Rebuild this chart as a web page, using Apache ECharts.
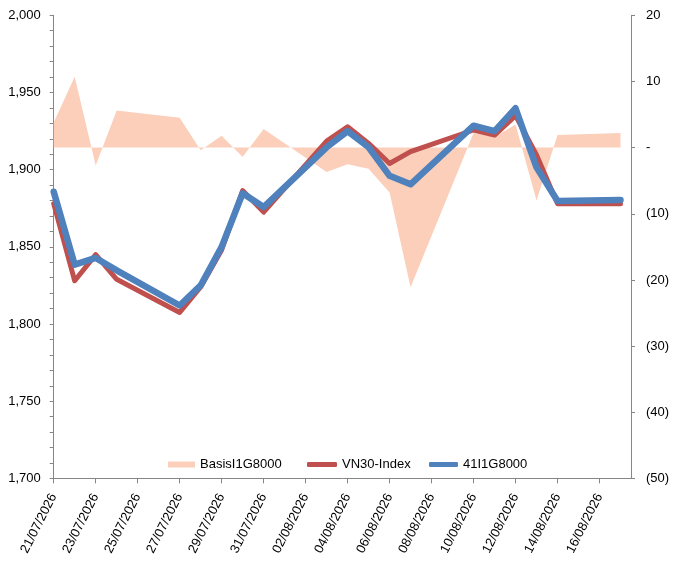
<!DOCTYPE html>
<html>
<head>
<meta charset="utf-8">
<script src="https://cdn.jsdelivr.net/npm/echarts@6.0.0/dist/echarts.min.js"></script>
<style>
  html, body { margin: 0; padding: 0; background: #fff; }
  #chart { width: 676px; height: 562px; }
</style>
</head>
<body>
<div id="chart"></div>
<script>
// trading days (weekends skipped, axis is calendar days)
var dates = ['21/07/2026', '22/07/2026', '23/07/2026', '24/07/2026', '27/07/2026',
  '28/07/2026', '29/07/2026', '30/07/2026', '31/07/2026', '03/08/2026', '04/08/2026',
  '05/08/2026', '06/08/2026', '07/08/2026', '10/08/2026', '11/08/2026', '12/08/2026',
  '13/08/2026', '14/08/2026', '17/08/2026'];
var basis = [3.8, 10.7, -2.7, 5.6, 4.5, -0.4, 1.8, -1.4, 2.8, -3.7, -2.5, -3.2, -6.8,
  -21.1, 2.2, 1.6, 3.5, -8.0, 1.9, 2.2];
var vn30 = [1878, 1828, 1845, 1829, 1807.5, 1824, 1848, 1886.5, 1872.5, 1918.5, 1927.8,
  1917, 1904, 1911.7, 1925.7, 1922.4, 1935, 1909.5, 1878, 1878];
var fut = [1885.7, 1838.5, 1842.8, 1834.8, 1812, 1825, 1850, 1884.7, 1875.8, 1914.5, 1925,
  1914.5, 1896, 1890.5, 1928.5, 1925, 1939.8, 1901.5, 1879.7, 1880.3];
var xTickLabels = ['21/07/2026', '23/07/2026', '25/07/2026', '27/07/2026', '29/07/2026',
  '31/07/2026', '02/08/2026', '04/08/2026', '06/08/2026', '08/08/2026', '10/08/2026',
  '12/08/2026', '14/08/2026', '16/08/2026'];

// day number counted from the first date
function dayIndex(s) {
  var p = s.split('/');
  var t = Date.UTC(+p[2], +p[1] - 1, +p[0]);
  var p0 = dates[0].split('/');
  var t0 = Date.UTC(+p0[2], +p0[1] - 1, +p0[0]);
  return Math.round((t - t0) / 86400000);
}
function pairs(arr) {
  return arr.map(function (v, i) { return [dayIndex(dates[i]), v]; });
}
var tickPos = xTickLabels.map(dayIndex);

var FONT = 'Liberation Sans, Arial, sans-serif';
var AXIS_GREY = '#868686';

var chart = echarts.init(document.getElementById('chart'));
var option = {
  animation: false,
  grid: { left: 53.7, right: 45, top: 15.3, bottom: 83.6 },
  legend: [{
    data: [{ name: 'BasisI1G8000', icon: 'rect' }],
    left: 163, top: 453, itemWidth: 27, itemHeight: 6,
    itemStyle: { borderWidth: 0 },
    textStyle: { fontFamily: FONT, fontSize: 13, color: '#000' }
  }, {
    data: [{ name: 'VN30-Index', icon: 'roundRect' }],
    left: 302, top: 453, itemWidth: 30, itemHeight: 5,
    itemStyle: { borderWidth: 0 },
    textStyle: { fontFamily: FONT, fontSize: 13, color: '#000' }
  }, {
    data: [{ name: '41I1G8000', icon: 'roundRect' }],
    left: 424, top: 453, itemWidth: 29, itemHeight: 5,
    itemStyle: { borderWidth: 0 },
    textStyle: { fontFamily: FONT, fontSize: 13, color: '#000' }
  }],
  xAxis: {
    type: 'value',
    min: 0,
    max: 27.5,
    splitLine: { show: false },
    axisLine: { onZero: false, lineStyle: { color: AXIS_GREY } },
    axisTick: { length: 5, lineStyle: { color: AXIS_GREY }, customValues: tickPos },
    axisLabel: {
      customValues: tickPos,
      rotate: 63,
      margin: 16,
      color: '#000',
      fontFamily: FONT,
      fontSize: 13,
      formatter: function (v) {
        var i = tickPos.indexOf(v);
        return i >= 0 ? xTickLabels[i] : '';
      }
    }
  },
  yAxis: [{
    type: 'value',
    position: 'left',
    min: 1700,
    max: 2000,
    interval: 50,
    splitLine: { show: false },
    axisLine: { show: true, onZero: false, lineStyle: { color: AXIS_GREY } },
    axisTick: { show: true, length: 4, lineStyle: { color: AXIS_GREY } },
    minorTick: { show: true, splitNumber: 5, length: 4, lineStyle: { color: AXIS_GREY } },
    axisLabel: {
      margin: 13,
      color: '#000',
      fontFamily: FONT,
      fontSize: 13,
      formatter: function (v) { return v.toLocaleString('en-US'); }
    }
  }, {
    type: 'value',
    position: 'right',
    min: -50,
    max: 20,
    interval: 10,
    splitLine: { show: false },
    axisLine: { show: true, onZero: false, lineStyle: { color: AXIS_GREY } },
    axisTick: { show: true, length: 4, lineStyle: { color: AXIS_GREY } },
    axisLabel: {
      margin: 15,
      color: '#000',
      fontFamily: FONT,
      fontSize: 13,
      formatter: function (v) {
        if (v === 0) return '-';
        return v < 0 ? '(' + (-v) + ')' : String(v);
      }
    }
  }],
  series: [{
    name: 'BasisI1G8000',
    type: 'line',
    yAxisIndex: 1,
    data: pairs(basis),
    symbol: 'none',
    itemStyle: { color: '#FBCFB9' },
    lineStyle: { width: 0 },
    areaStyle: { color: '#FBCFB9', opacity: 1, origin: 0 }
  }, {
    name: 'VN30-Index',
    type: 'line',
    data: pairs(vn30),
    symbol: 'none',
    itemStyle: { color: '#C0504D' },
    lineStyle: { color: '#C0504D', width: 5, cap: 'round', join: 'round' }
  }, {
    name: '41I1G8000',
    type: 'line',
    data: pairs(fut),
    symbol: 'none',
    itemStyle: { color: '#4F81BD' },
    lineStyle: { color: '#4F81BD', width: 6.5, cap: 'round', join: 'round' }
  }]
};
chart.setOption(option);
</script>
</body>
</html>
